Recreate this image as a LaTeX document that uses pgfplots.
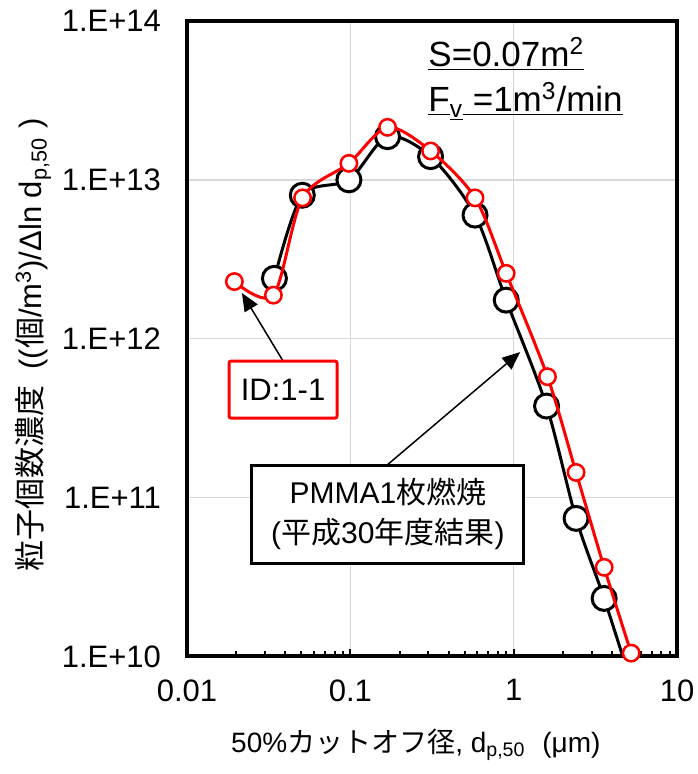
\documentclass[border=0pt]{standalone}
\usepackage{fontspec}
\setmainfont{Liberation Sans}
\newfontfamily\cjk{Noto Sans CJK JP}
\usepackage{pgfplots}
\pgfplotsset{compat=1.18}
\usetikzlibrary{arrows.meta}
\definecolor{gridgray}{HTML}{D9D9D9}
\definecolor{myred}{HTML}{FF0000}
\newcommand{\ul}[1]{\underline{\smash{#1}}}

\begin{document}
\begin{tikzpicture}
\useasboundingbox (-93.5pt,-58.75pt) rectangle (255pt,328.25pt);
\begin{axis}[
  scale only axis, width=245pt, height=317.75pt,
  xmode=log, ymode=log,
  xmin=0.01, xmax=10, ymin=1e10, ymax=1e14,
  xtick={0.01,0.1,1,10}, xticklabels={0.01,0.1,1,10},
  ytick={1e10,1e11,1e12,1e13,1e14},
  yticklabels={1.E+10,1.E+11,1.E+12,1.E+13,1.E+14},
  yminorticks=false,
  tick align=inside,
  xtick pos=left, ytick pos=left,
  major tick length=4pt, minor tick length=2.5pt,
  every tick/.style={black, line width=1pt},
  ytick style={draw=none},
  grid=major,
  major grid style={gridgray, line width=0.75pt},
  axis line style={line width=2pt},
  ticklabel style={font=\fontsize{15.5}{18}\selectfont},
  yticklabel style={xshift=-9.5pt},
  xticklabel style={yshift=-8pt},
  xlabel={50\%{\cjk カットオフ径}, d\textsubscript{p,50}\hspace{0.6em}(μm)},
  ylabel={{\cjk 粒子個数濃度}\hspace{0.5em}(({\cjk 個}/m\textsuperscript{3})/Δln d\textsubscript{p,50}\hspace{0.3em})},
  xlabel style={at={(axis description cs:0.467,-0.139)}, anchor=center, font=\fontsize{14}{17}\selectfont},
  ylabel style={at={(axis description cs:-0.314,0.491)}, anchor=center, font=\fontsize{15.5}{18}\selectfont},
  clip mode=individual,
]
% Black series (PMMA, H30)
\addplot[black, line width=1.5pt, smooth, tension=0.5,
  mark=*, mark size=6pt, mark indices={1,2,3,4,5,6,7,8,9,10},
  mark options={fill=white, draw=black, line width=1.5pt, solid}]
  coordinates {
  (0.0343,2.40e12) (0.0508,8.0e12) (0.098,1.0e13) (0.169,1.87e13)
  (0.310,1.40e13) (0.58,6.0e12) (0.90,1.75e12) (1.59,3.77e11)
  (2.41,7.4e10) (3.58,2.32e10) (5.24,6.8e9)
  };
% Red series (ID:1-1)
\addplot[myred, line width=1.5pt, smooth, tension=0.5,
  mark=*, mark size=4.1pt,
  mark options={fill=white, draw=myred, line width=1.25pt, solid}]
  coordinates {
  (0.0195,2.29e12) (0.0338,1.88e12) (0.0510,7.7e12) (0.098,1.27e13)
  (0.169,2.14e13) (0.310,1.52e13) (0.58,7.7e12) (0.90,2.58e12)
  (1.61,5.77e11) (2.41,1.44e11) (3.58,3.64e10) (5.24,1.05e10)
  };
% annotations
\draw[line width=0.75pt, -{Triangle[length=9pt, width=7.5pt]}]
  (rel axis cs:0.196,0.465) -- (rel axis cs:0.112,0.572);
\draw[line width=0.75pt, -{Triangle[length=9pt, width=7.5pt]}]
  (rel axis cs:0.408,0.301) -- (rel axis cs:0.680,0.479);
\node[draw=myred, line width=1.5pt, rounded corners=1pt, fill=white,
  minimum width=54pt, minimum height=28.5pt, inner sep=0pt,
  font=\fontsize{15.5}{18}\selectfont] at (rel axis cs:0.196,0.420) {ID:1-1};
\node[draw=black, line width=1.5pt, fill=white, align=center,
  minimum width=136pt, minimum height=49pt, inner sep=0pt,
  font=\fontsize{15}{20}\selectfont] at (rel axis cs:0.410,0.224)
  {PMMA1{\cjk 枚燃焼}\\({\cjk 平成}30{\cjk 年度結果})};
\node[anchor=base west, inner sep=0pt, font=\fontsize{17.5}{20}\selectfont]
  at (rel axis cs:0.492,0.928) {\ul{S=0.07m\textsuperscript{2}}};
\node[anchor=base west, inner sep=0pt, font=\fontsize{17.5}{20}\selectfont]
  at (rel axis cs:0.492,0.857)
  {\ul{F}\underline{\textsubscript{v}}\ul{\ =1m\textsuperscript{3}/min}};
\end{axis}
\end{tikzpicture}
\end{document}
